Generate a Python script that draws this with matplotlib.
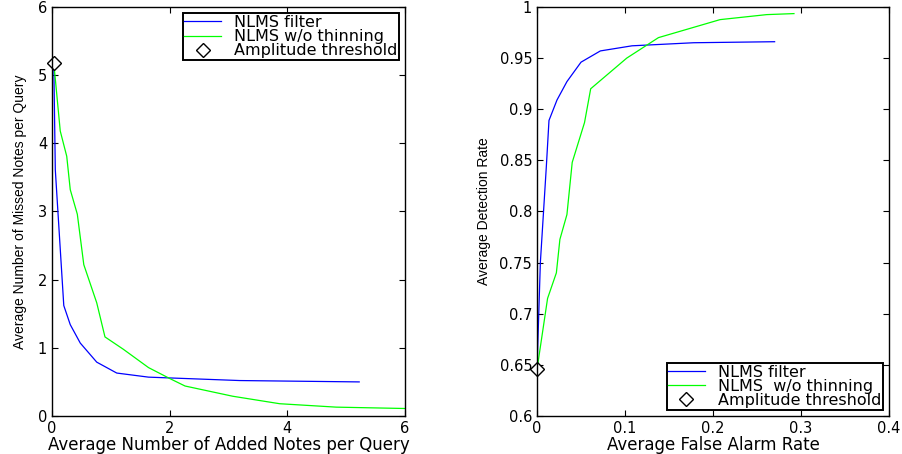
import matplotlib
matplotlib.use("Agg")
import matplotlib.pyplot as plt
from matplotlib import font_manager

# missed vs added notes per query
added_nlms = [0.03, 0.056, 0.2, 0.31, 0.48, 0.76, 1.1, 1.64, 3.19, 5.22]
missed_nlms = [5.18, 3.61, 1.62, 1.34, 1.07, 0.79, 0.63, 0.57, 0.52, 0.50]
added_raw = [0.03, 0.14, 0.25, 0.31, 0.43, 0.54, 0.76, 0.9, 1.21, 1.64, 2.0, 2.26, 3.07, 3.87, 4.83, 6.0]
missed_raw = [5.18, 4.18, 3.81, 3.32, 2.96, 2.22, 1.66, 1.16, 0.98, 0.71, 0.55, 0.44, 0.29, 0.18, 0.13, 0.11]
amp_added = [0.04]
amp_missed = [5.18]

# detection vs false alarm rate
fa_nlms = [0.0, 0.0038, 0.0106, 0.0136, 0.0227, 0.034, 0.050, 0.072, 0.108, 0.178, 0.270]
det_nlms = [0.6456, 0.75, 0.844, 0.889, 0.909, 0.927, 0.946, 0.957, 0.962, 0.965, 0.966]
fa_raw = [0.0, 0.012, 0.022, 0.026, 0.034, 0.040, 0.054, 0.061, 0.102, 0.138, 0.208, 0.261, 0.292]
det_raw = [0.6456, 0.715, 0.740, 0.7727, 0.797, 0.848, 0.887, 0.920, 0.950, 0.970, 0.9876, 0.9925, 0.9935]
amp_fa = [0.0]
amp_det = [0.6456]

tick_font = 10.5
leg_font = 11.5
xlab_font = 12

# condensed face for the y labels if there is one
names = {f.name for f in font_manager.fontManager.ttflist}
if 'Liberation Sans Narrow' in names:
    ylab_family, ylab_font = 'Liberation Sans Narrow', 11
else:
    ylab_family, ylab_font = 'Liberation Sans', 10


def style_axes(ax):
    ax.tick_params(direction='in', length=4, top=True, right=True, labelsize=tick_font,
                   width=0.8, colors='black')
    for s in ax.spines.values():
        s.set_linewidth(1.0)


def add_legend(ax, loc):
    leg = ax.legend(loc=loc, fontsize=leg_font, fancybox=False, framealpha=1,
                    edgecolor='black', handlelength=2.3, handletextpad=0.8,
                    borderaxespad=0.4, labelspacing=-0.05, borderpad=0.1)
    leg.get_frame().set_linewidth(1.4)
    return leg


fig = plt.figure(figsize=(9.03, 4.54), dpi=100)

ax1 = fig.add_axes([0.0576, 0.0837, 0.391, 0.901])
ax1.plot(added_nlms, missed_nlms, color='#0000ff', lw=0.9, label='NLMS filter')
ax1.plot(added_raw, missed_raw, color='#00ff00', lw=0.9, label='NLMS w/o thinning')
ax1.plot(amp_added, amp_missed, ls='none', marker='D', ms=7, mfc='white', mec='black',
         mew=1.0, label='Amplitude threshold', clip_on=False)
ax1.set_xlim(0, 6)
ax1.set_ylim(0, 6)
ax1.set_xticks([0, 2, 4, 6])
ax1.set_yticks([0, 1, 2, 3, 4, 5, 6])
ax1.set_xlabel('Average Number of Added Notes per Query', fontsize=xlab_font, labelpad=0)
ax1.set_ylabel('Average Number of Missed Notes per Query', fontsize=ylab_font,
               family=ylab_family, labelpad=8)
style_axes(ax1)
add_legend(ax1, 'upper right')

ax2 = fig.add_axes([0.5947, 0.0837, 0.3898, 0.901])
ax2.plot(fa_nlms, det_nlms, color='#0000ff', lw=0.9, label='NLMS filter')
ax2.plot(fa_raw, det_raw, color='#00ff00', lw=0.9, label='NLMS  w/o thinning')
ax2.plot(amp_fa, amp_det, ls='none', marker='D', ms=7, mfc='white', mec='black',
         mew=1.0, label='Amplitude threshold', clip_on=False)
ax2.set_xlim(0, 0.4)
ax2.set_ylim(0.6, 1.0)
ax2.set_xticks([0, 0.1, 0.2, 0.3, 0.4])
ax2.set_xticklabels(['0', '0.1', '0.2', '0.3', '0.4'])
ax2.set_yticks([0.6, 0.65, 0.7, 0.75, 0.8, 0.85, 0.9, 0.95, 1.0])
ax2.set_yticklabels(['0.6', '0.65', '0.7', '0.75', '0.8', '0.85', '0.9', '0.95', '1'])
ax2.set_xlabel('Average False Alarm Rate', fontsize=xlab_font, labelpad=0)
ax2.set_ylabel('Average Detection Rate', fontsize=ylab_font, family=ylab_family, labelpad=6)
style_axes(ax2)
add_legend(ax2, 'lower right')

fig.savefig('out.png', dpi=100)
